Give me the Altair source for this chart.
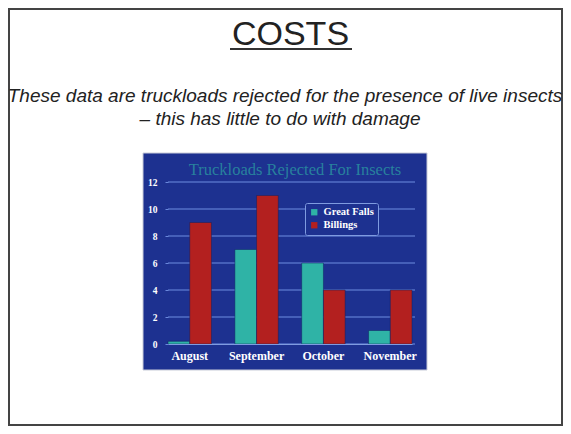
import altair as alt
import pandas as pd

months = ["August", "September", "October", "November"]
great_falls = [0.2, 7, 6, 1]
billings = [9, 11, 4, 4]
series = ["Great Falls", "Billings"]
y_ticks = [0, 2, 4, 6, 8, 10, 12]

slide_title = "COSTS"
subtitle_1 = "These data are truckloads rejected for the presence of live insects"
subtitle_2 = "\u2013 this has little to do with damage"
chart_title = "Truckloads Rejected For Insects"

rows = []
for m, g, b in zip(months, great_falls, billings):
    rows.append({"month": m, "series": series[0], "value": g})
    rows.append({"month": m, "series": series[1], "value": b})
df = pd.DataFrame(rows)
grid_df = pd.DataFrame({"tick": y_ticks})

one = pd.DataFrame({"a": [0]})

frame = alt.Chart(one).mark_rect(fill="white", stroke="#444", strokeWidth=2).encode(
    x=alt.value(-159), x2=alt.value(394), y=alt.value(-173), y2=alt.value(243)
)

bg = alt.Chart(one).mark_rect(fill="#1d3190", stroke="#c8cbd8", strokeWidth=1).encode(
    x=alt.value(-25), x2=alt.value(259), y=alt.value(-29), y2=alt.value(188)
)

title_t = alt.Chart(one).mark_text(
    text=slide_title, font="Liberation Sans", fontSize=34, color="#222222",
    align="center", baseline="alphabetic"
).encode(x=alt.value(122.5), y=alt.value(-137))

underline = alt.Chart(one).mark_rule(color="#333333", strokeWidth=2).encode(
    x=alt.value(62), x2=alt.value(184), y=alt.value(-133)
)

sub1 = alt.Chart(one).mark_text(
    text=subtitle_1, font="Liberation Sans", fontSize=19, fontStyle="italic",
    color="#222222", align="center", baseline="alphabetic"
).encode(x=alt.value(117), y=alt.value(-80))

sub2 = alt.Chart(one).mark_text(
    text=subtitle_2, font="Liberation Sans", fontSize=19, fontStyle="italic",
    color="#222222", align="center", baseline="alphabetic"
).encode(x=alt.value(112), y=alt.value(-57))

ctitle = alt.Chart(one).mark_text(
    text=chart_title, font="Liberation Serif", fontSize=16.5, color="#2a8fa0",
    align="center", baseline="alphabetic", opacity=0.85
).encode(x=alt.value(127), y=alt.value(-7))

yscale = alt.Scale(domain=[0, 12], nice=False)
y_axis = alt.Axis(values=y_ticks, labelFont="Liberation Serif", labelFontWeight="bold",
                  labelFontSize=9.5, labelColor="white", labelPadding=8,
                  labelOverlap=False, labelFlush=False,
                  grid=False, domain=False, zindex=1,
                  tickColor="#6a88dc", tickSize=3)

grid = alt.Chart(grid_df).mark_rule(color="#6f8ee0", strokeWidth=1).encode(
    y=alt.Y("tick:Q", scale=yscale, title=None, axis=y_axis),
    x=alt.value(0), x2=alt.value(247),
)

bars = alt.Chart(df).mark_bar(stroke="#102060", strokeWidth=0.5).encode(
    x=alt.X("month:N", sort=months, title=None,
            scale=alt.Scale(paddingInner=0.35, paddingOuter=0),
            axis=alt.Axis(labelAngle=0, labelFont="Liberation Serif", labelFontWeight="bold",
                          labelFontSize=12, labelColor="white", labelPadding=6,
                          labelOverlap=False,
                          domainColor="#7f9be0", ticks=False, grid=False, zindex=1)),
    xOffset=alt.XOffset("series:N", sort=series),
    y=alt.Y("value:Q", title=None, scale=yscale, axis=y_axis),
    color=alt.Color("series:N", sort=series,
                    scale=alt.Scale(domain=series, range=["#2fb3a6", "#b3201f"]),
                    legend=alt.Legend(title=None, orient="none", legendX=137, legendY=21,
                                      labelFont="Liberation Serif", labelFontWeight="bold",
                                      labelFontSize=10.5, labelColor="white",
                                      symbolType="square", symbolSize=40,
                                      symbolStrokeWidth=0,
                                      fillColor="#1d3190", strokeColor="#7f9be0",
                                      padding=4, rowPadding=2, cornerRadius=2)),
)

chart = alt.layer(frame, bg, title_t, underline, sub1, sub2, ctitle, grid, bars).properties(
    width=244, height=162,
    padding={"left": 160, "top": 174, "right": 151, "bottom": 82},
    autosize=alt.AutoSizeParams(type="none"),
).configure_view(stroke=None).configure(background="white")

chart.save("out.html", embed_options={"renderer": "svg", "actions": False})
